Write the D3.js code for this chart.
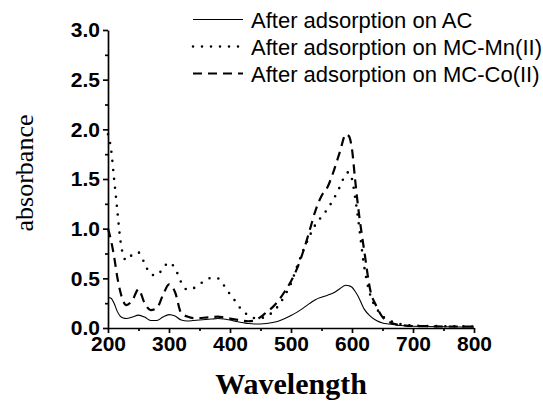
<html><head>
<meta charset="utf-8">
<title>absorbance spectra</title>
<script src="https://d3js.org/d3.v7.min.js"></script>
<style>
  body { margin: 0; background: #fff; }
  .tick text { font-family: "Liberation Sans", Arial, sans-serif; font-weight: bold; }
</style>
</head>
<body>
<svg id="spectra" width="543" height="404"></svg>
<script>

// wavelengths (nm) shared by the three spectra
const wavelengths = [200, 205, 210, 215, 220, 225, 230, 240, 250, 260, 270, 280, 290, 300, 310, 320, 330,
  340, 350, 360, 370, 380, 390, 400, 410, 420, 430, 440, 450, 460, 470, 480, 490, 500, 510, 520, 530,
  540, 550, 560, 570, 580, 590, 595, 600, 605, 610, 620, 630, 640, 650, 660, 670, 680, 700, 720, 750, 800];

const acValues = [0.31, 0.30, 0.25, 0.17, 0.12, 0.10, 0.095, 0.11, 0.13, 0.11, 0.075, 0.075, 0.11, 0.135, 0.12, 0.08, 0.07,
  0.075, 0.08, 0.085, 0.09, 0.095, 0.09, 0.08, 0.065, 0.055, 0.045, 0.04, 0.04, 0.045, 0.055, 0.07, 0.095, 0.125, 0.16, 0.20, 0.245,
  0.285, 0.31, 0.33, 0.355, 0.395, 0.43, 0.425, 0.41, 0.37, 0.32, 0.19, 0.12, 0.075, 0.05, 0.04, 0.032, 0.025, 0.018, 0.015, 0.012, 0.01];

const mnValues = [1.95, 1.8, 1.5, 1.2, 0.9, 0.73, 0.68, 0.74, 0.76, 0.65, 0.54, 0.53, 0.60, 0.66, 0.60, 0.46, 0.385,
  0.40, 0.44, 0.48, 0.505, 0.50, 0.43, 0.34, 0.26, 0.175, 0.13, 0.10, 0.10, 0.12, 0.16, 0.23, 0.33, 0.45, 0.62, 0.78, 0.92,
  1.04, 1.12, 1.2, 1.3, 1.42, 1.55, 1.57, 1.5, 1.32, 1.1, 0.62, 0.33, 0.2, 0.12, 0.08, 0.055, 0.04, 0.025, 0.02, 0.018, 0.015];

const coValues = [1.0, 0.88, 0.72, 0.52, 0.37, 0.27, 0.23, 0.28, 0.39, 0.25, 0.18, 0.20, 0.33, 0.44, 0.36, 0.15, 0.115,
  0.10, 0.10, 0.105, 0.11, 0.115, 0.105, 0.095, 0.085, 0.075, 0.068, 0.075, 0.11, 0.16, 0.21, 0.28, 0.37, 0.47, 0.60, 0.77, 0.97,
  1.18, 1.33, 1.42, 1.58, 1.77, 1.95, 1.93, 1.8, 1.5, 1.22, 0.78, 0.38, 0.22, 0.11, 0.065, 0.04, 0.03, 0.02, 0.018, 0.015, 0.015];

const seriesNames = ["After adsorption on AC", "After adsorption on MC-Mn(II)", "After adsorption on MC-Co(II)"];
const xTicks = [200, 300, 400, 500, 600, 700, 800];
const yTicks = [0.0, 0.5, 1.0, 1.5, 2.0, 2.5, 3.0];

let svg = d3.select("svg#spectra");
let margin = { "top": 30, "right": 69, "bottom": 76, "left": 108 };
let chartWidth = svg.attr("width") - margin.left - margin.right;
let chartHeight = svg.attr("height") - margin.top - margin.bottom;

const xScale = d3.scaleLinear().domain([200, 800]).range([0, chartWidth]);
const yScale = d3.scaleLinear().domain([0, 3]).range([chartHeight, 0]);

let chart = svg.append("g")
  .attr("transform", "translate(" + margin.left + "," + margin.top + ")");

// minor ticks first, then the labelled axes on top
chart.append("g")
  .attr("transform", "translate(0," + chartHeight + ")")
  .call(d3.axisBottom(xScale).tickValues(d3.range(250, 800, 100)).tickSize(3).tickFormat(""))
  .call(g => g.select(".domain").remove());
chart.append("g")
  .call(d3.axisLeft(yScale).tickValues(d3.range(0.25, 3, 0.5)).tickSize(3).tickFormat(""))
  .call(g => g.select(".domain").remove());

let xAxis = chart.append("g")
  .attr("transform", "translate(0," + chartHeight + ")")
  .call(d3.axisBottom(xScale).tickValues(xTicks).tickSize(5).tickSizeOuter(0).tickPadding(3).tickFormat(d3.format("d")));
xAxis.selectAll("text").style("font-size", "21px");

let yAxis = chart.append("g")
  .call(d3.axisLeft(yScale).tickValues(yTicks).tickSize(5).tickSizeOuter(0).tickPadding(3).tickFormat(d3.format(".1f")));
yAxis.selectAll("text").style("font-size", "21px");

chart.selectAll(".domain, .tick line").attr("stroke", "#000").attr("stroke-width", 1.7);

// the three spectra
const styles = [
  { width: 1.1, dash: null, cap: "butt" },
  { width: 2.6, dash: "0,9", cap: "round" },
  { width: 2.2, dash: "9,6", cap: "butt" }
];
const allValues = [acValues, mnValues, coValues];

let line = d3.line()
  .x(d => xScale(d[0]))
  .y(d => yScale(d[1]))
  .curve(d3.curveMonotoneX);

allValues.forEach((vals, i) => {
  chart.append("path")
    .datum(wavelengths.map((w, j) => [w, vals[j]]))
    .attr("d", line)
    .attr("fill", "none")
    .attr("stroke", "#000")
    .attr("stroke-width", styles[i].width)
    .attr("stroke-dasharray", styles[i].dash)
    .attr("stroke-linecap", styles[i].cap);
});

// legend, top right
let legend = svg.append("g").attr("transform", "translate(193,19.5)");
seriesNames.forEach((name, i) => {
  legend.append("line")
    .attr("x1", 0).attr("x2", 50)
    .attr("y1", i * 27).attr("y2", i * 27)
    .attr("stroke", "#000")
    .attr("stroke-width", styles[i].width)
    .attr("stroke-dasharray", styles[i].dash)
    .attr("stroke-linecap", styles[i].cap);
  legend.append("text")
    .attr("x", 58).attr("y", i * 27 + 8)
    .style("font-family", "'Liberation Sans', Arial, sans-serif")
    .style("font-size", "22px")
    .text(name);
});

// axis titles
svg.append("text")
  .attr("transform", "translate(33,173) rotate(-90)")
  .attr("text-anchor", "middle")
  .style("font-family", "'Liberation Serif', 'Times New Roman', serif")
  .style("font-size", "26px")
  .text("absorbance");

svg.append("text")
  .attr("x", margin.left + chartWidth / 2)
  .attr("y", 394)
  .attr("text-anchor", "middle")
  .style("font-family", "'Liberation Serif', 'Times New Roman', serif")
  .style("font-weight", "bold")
  .style("font-size", "30px")
  .text("Wavelength");

</script>
</body>
</html>
